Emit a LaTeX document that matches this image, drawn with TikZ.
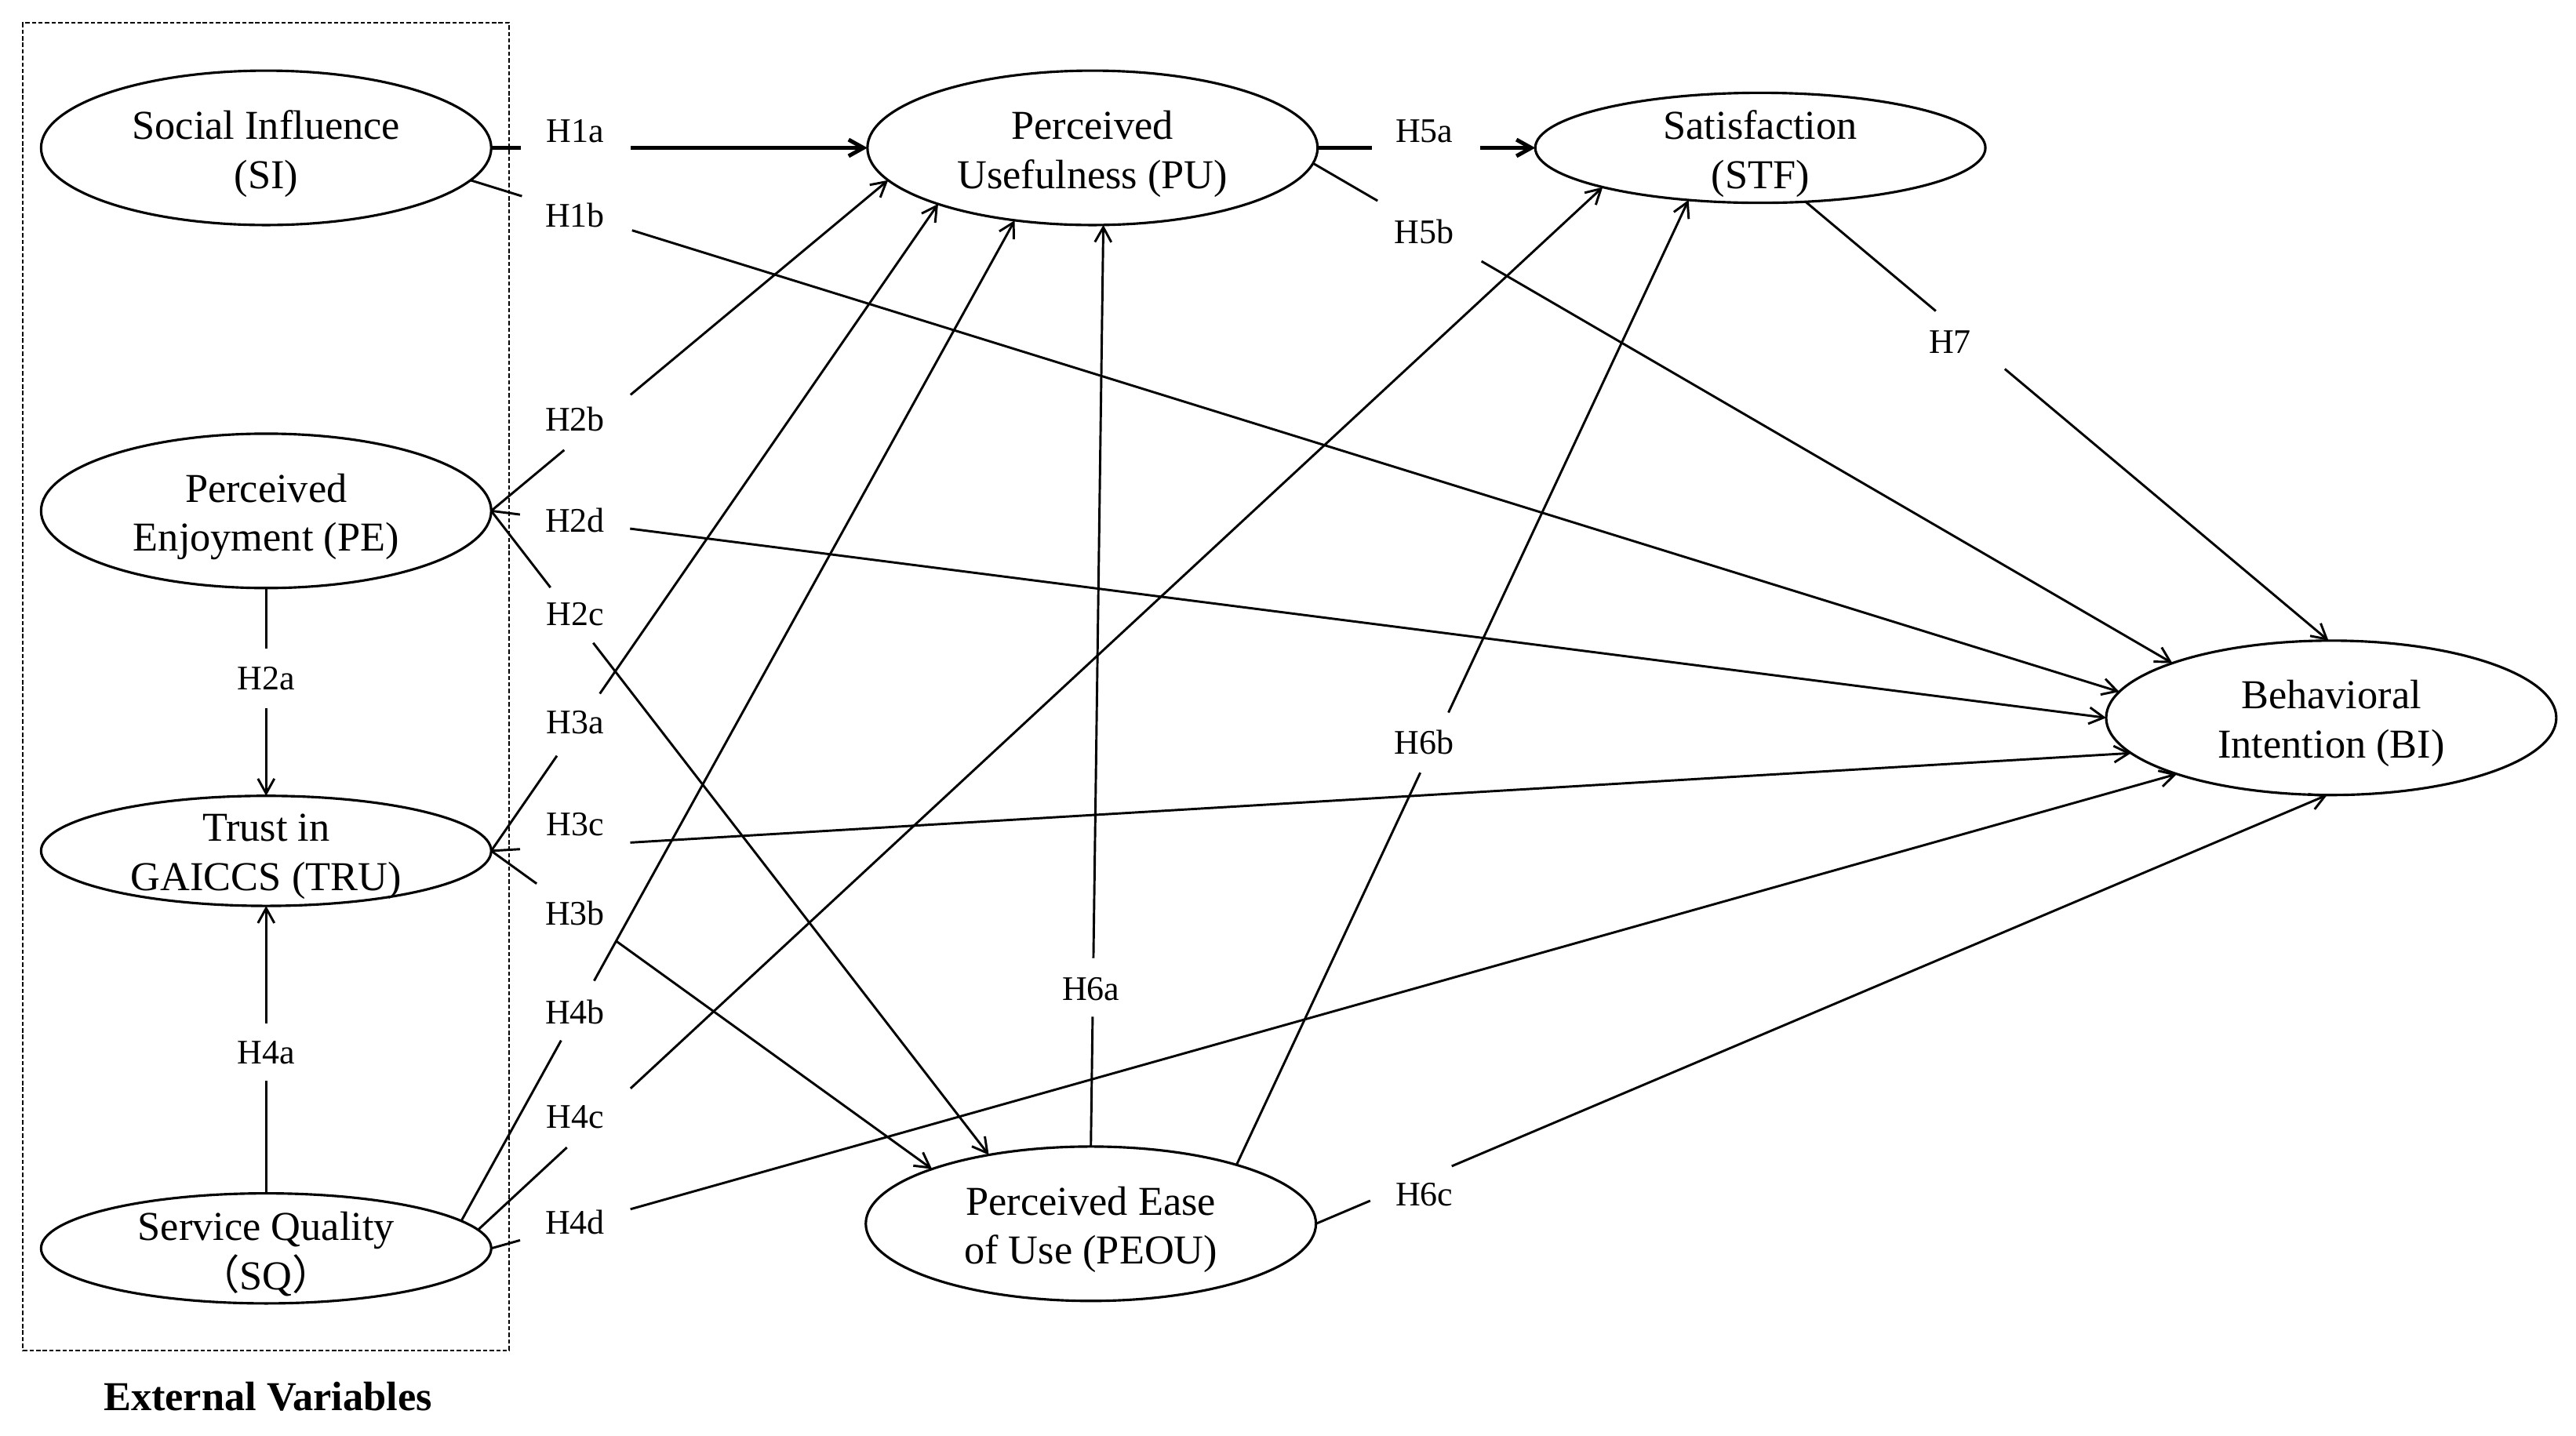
\documentclass[tikz,border=0pt]{standalone}
\usepackage{fontspec}
\setmainfont{Liberation Serif}
\newfontfamily\cjk{Noto Sans CJK SC}
\usetikzlibrary{arrows.meta,calc,shapes.geometric}
\newcommand\hypline[5]{%
  \draw[conn,#1] (#2) -- ($(#2)!#4!(#3)$);
  \draw[conn,arr,#1] ($(#2)!#5!(#3)$) -- (#3);}
\begin{document}
\begin{tikzpicture}[x=0.5pt,y=-0.5pt,
  big/.style={ellipse,draw,line width=0.75pt,minimum width=137pt,minimum height=47pt,inner sep=0pt,outer sep=0pt},
  flat/.style={big,minimum height=33.5pt},
  etext/.style={align=center,font=\fontsize{12.5}{15}\selectfont,inner sep=0pt,yshift=-1.8pt},
  hyp/.style={font=\fontsize{10.5}{12}\selectfont,inner sep=0pt},
  conn/.style={line width=0.7pt},
  heavy/.style={line width=1.2pt},
  arr/.style={-{Straight Barb[length=4.5pt,width=5pt]}},
  ]
\useasboundingbox (0,0) rectangle (1568,874);

% external variables frame
\node[draw,dash pattern=on 1.3pt off 0.7pt,line width=0.45pt,minimum width=148pt,minimum height=404pt,inner sep=0pt,outer sep=0pt] (ext) at (162,418) {};
\node[font=\bfseries\fontsize{12.5}{15}\selectfont,inner sep=0pt] (extlabel) at (163,850) {External Variables};

% constructs
\node[big]  (SI)   at (162,90)    {};
\node[big]  (PE)   at (162,311)   {};
\node[flat] (TRU)  at (162,518)   {};
\node[flat] (SQ)   at (162,760)   {};
\node[big]  (PU)   at (665,90)    {};
\node[flat] (STF)  at (1071.5,90) {};
\node[big]  (BI)   at (1419,437)  {};
\node[big]  (PEOU) at (664,745)   {};

\node[etext] (SIt)   at (SI)   {Social Influence\\(SI)};
\node[etext] (PEt)   at (PE)   {Perceived\\Enjoyment (PE)};
\node[etext] (TRUt)  at (TRU)  {Trust in\\GAICCS (TRU)};
\node[etext] (SQt)   at (SQ)   {Service Quality\\{\cjk （}SQ{\cjk ）}};
\node[etext] (PUt)   at (PU)   {Perceived\\Usefulness (PU)};
\node[etext] (STFt)  at (STF)  {Satisfaction\\(STF)};
\node[etext] (BIt)   at (BI)   {Behavioral\\Intention (BI)};
\node[etext] (PEOUt) at (PEOU) {Perceived Ease\\of Use (PEOU)};

% connectors (with gaps for the hypothesis labels)
\hypline{heavy}{SI.east}{PU.west}{0.0786}{0.371}
\hypline{}{SI.-9.5}{BI.173.8}{0.0312}{0.098}
\hypline{}{PE.east}{PU.-171.4}{0.184}{0.351}
\hypline{}{PE.east}{BI.west}{0.0178}{0.086}
\hypline{}{PE.east}{PEOU.146.1}{0.119}{0.205}
\hypline{}{PE.south}{TRU.north}{0.2925}{0.577}
\hypline{}{TRU.east}{PU.-160}{0.147}{0.243}
\hypline{}{TRU.east}{BI.-170.5}{0.0176}{0.0848}
\hypline{}{TRU.east}{PEOU.161.2}{0.103}{0.284}
\hypline{}{SQ.north}{TRU.south}{0.391}{0.591}
\hypline{}{SQ.8.3}{PU.-137.7}{0.1804}{0.24}
\hypline{}{SQ.5.8}{STF.-166.6}{0.079}{0.1356}
\hypline{}{SQ.east}{BI.-160.9}{0.0171}{0.0826}
\hypline{heavy}{PU.east}{STF.west}{0.249}{0.746}
\hypline{}{PU.-4.7}{BI.161.4}{0.0751}{0.196}
\hypline{}{PEOU.north}{PU.-82.7}{0.1408}{0.2045}
\hypline{}{PEOU.22}{STF.-144.9}{0.4065}{0.4688}
\hypline{}{PEOU.east}{BI.-93.6}{0.0537}{0.1343}
\hypline{}{STF.-50.3}{BI.92.4}{0.249}{0.381}

% hypothesis labels
\node[hyp] (h1a) at (350,80)  {H1a};
\node[hyp] (h1b) at (350,131) {H1b};
\node[hyp] (h2b) at (350,255) {H2b};
\node[hyp] (h2d) at (350,317) {H2d};
\node[hyp] (h2c) at (350,374) {H2c};
\node[hyp] (h2a) at (162,413) {H2a};
\node[hyp] (h3a) at (350,440) {H3a};
\node[hyp] (h3c) at (350,502) {H3c};
\node[hyp] (h3b) at (350,556) {H3b};
\node[hyp] (h4b) at (350,616) {H4b};
\node[hyp] (h4c) at (350,680) {H4c};
\node[hyp] (h4d) at (350,744) {H4d};
\node[hyp] (h4a) at (162,641) {H4a};
\node[hyp] (h5a) at (867,80)  {H5a};
\node[hyp] (h5b) at (867,141) {H5b};
\node[hyp] (h6b) at (867,452) {H6b};
\node[hyp] (h6a) at (664,602) {H6a};
\node[hyp] (h6c) at (867,727) {H6c};
\node[hyp] (h7)  at (1187,208) {H7};
\end{tikzpicture}
\end{document}
